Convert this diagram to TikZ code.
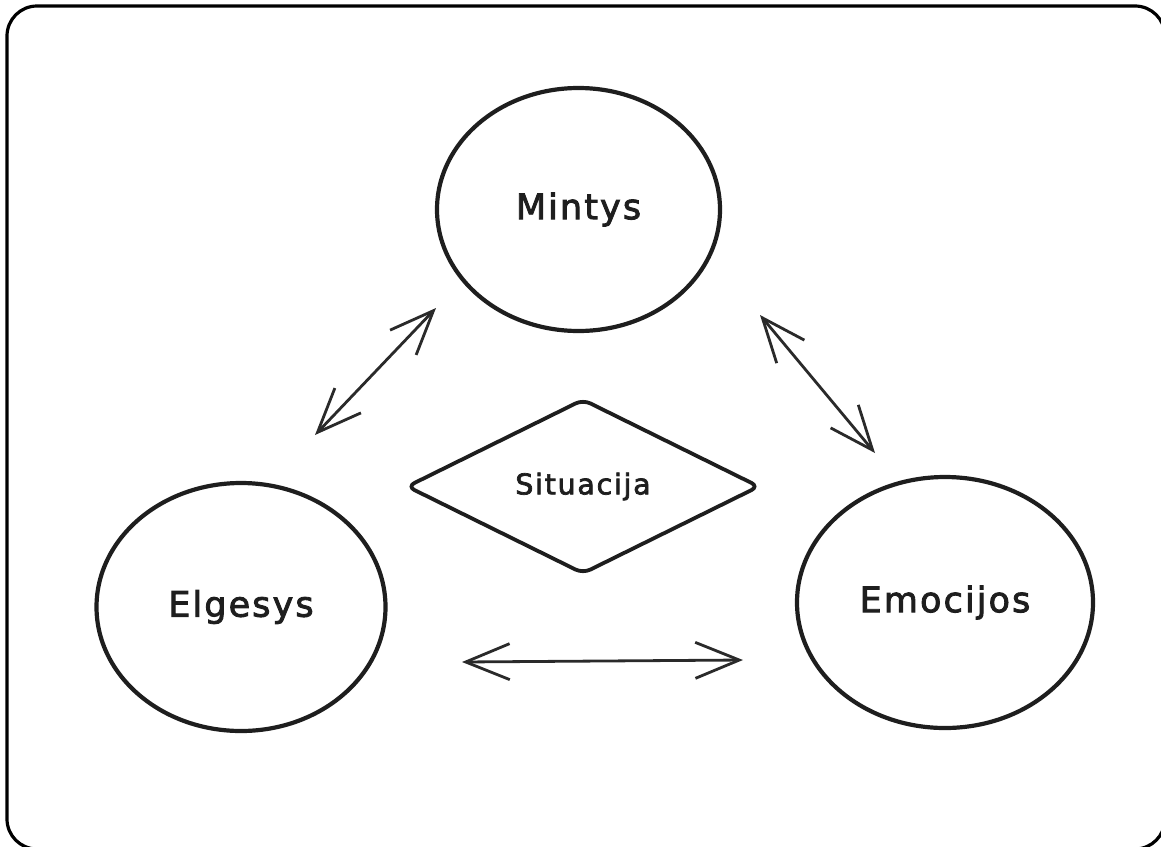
\documentclass[tikz,border=0pt]{standalone}
\usepackage{fontspec}
\usetikzlibrary{shapes.geometric,arrows.meta}
\newfontfamily\hand[LetterSpace=6,FakeBold=2.5]{DejaVu Sans}
\definecolor{ink}{HTML}{1E1E1E}
\definecolor{arrowink}{HTML}{2A2A2A}
\begin{document}
\begin{tikzpicture}[x=1pt,y=-1pt,
  frame/.style={draw=black,line width=3.2pt,rounded corners=30pt},
  bubble/.style={ellipse,draw=ink,line width=4.2pt,inner sep=0pt,font=\hand\fontsize{35}{38}\selectfont,text=ink},
  rhomb/.style={diamond,draw=ink,line width=3.8pt,rounded corners=8pt,inner sep=0pt,font=\hand\fontsize{28.5}{31}\selectfont,text=ink},
  dbl/.style={draw=arrowink,line width=2.8pt,{Straight Barb[length=44pt,width=36pt]}-{Straight Barb[length=44pt,width=36pt]}}]
\useasboundingbox (0,0) rectangle (1161,846);
\draw[frame] (7,6) rectangle (1165,849);
\node[bubble,minimum width=283pt,minimum height=243pt] (mintys) at (578.5,209.5) {Mintys};
\node[bubble,minimum width=289pt,minimum height=248pt] (elgesys) at (241,607) {Elgesys};
\node[bubble,minimum width=296pt,minimum height=251pt] (emocijos) at (945,602.5) {Emocijos};
\node[rhomb,minimum width=353pt,minimum height=175pt] (situacija) at (583,486.5) {Situacija};
\coordinate (a1) at (315,435);
\coordinate (a2) at (436,308);
\coordinate (b1) at (760,315);
\coordinate (b2) at (875,453);
\coordinate (c1) at (462,662);
\coordinate (c2) at (743,660);
\draw[dbl] (a1) -- (a2);
\draw[dbl] (b1) -- (b2);
\draw[dbl] (c1) -- (c2);
\end{tikzpicture}
\end{document}
